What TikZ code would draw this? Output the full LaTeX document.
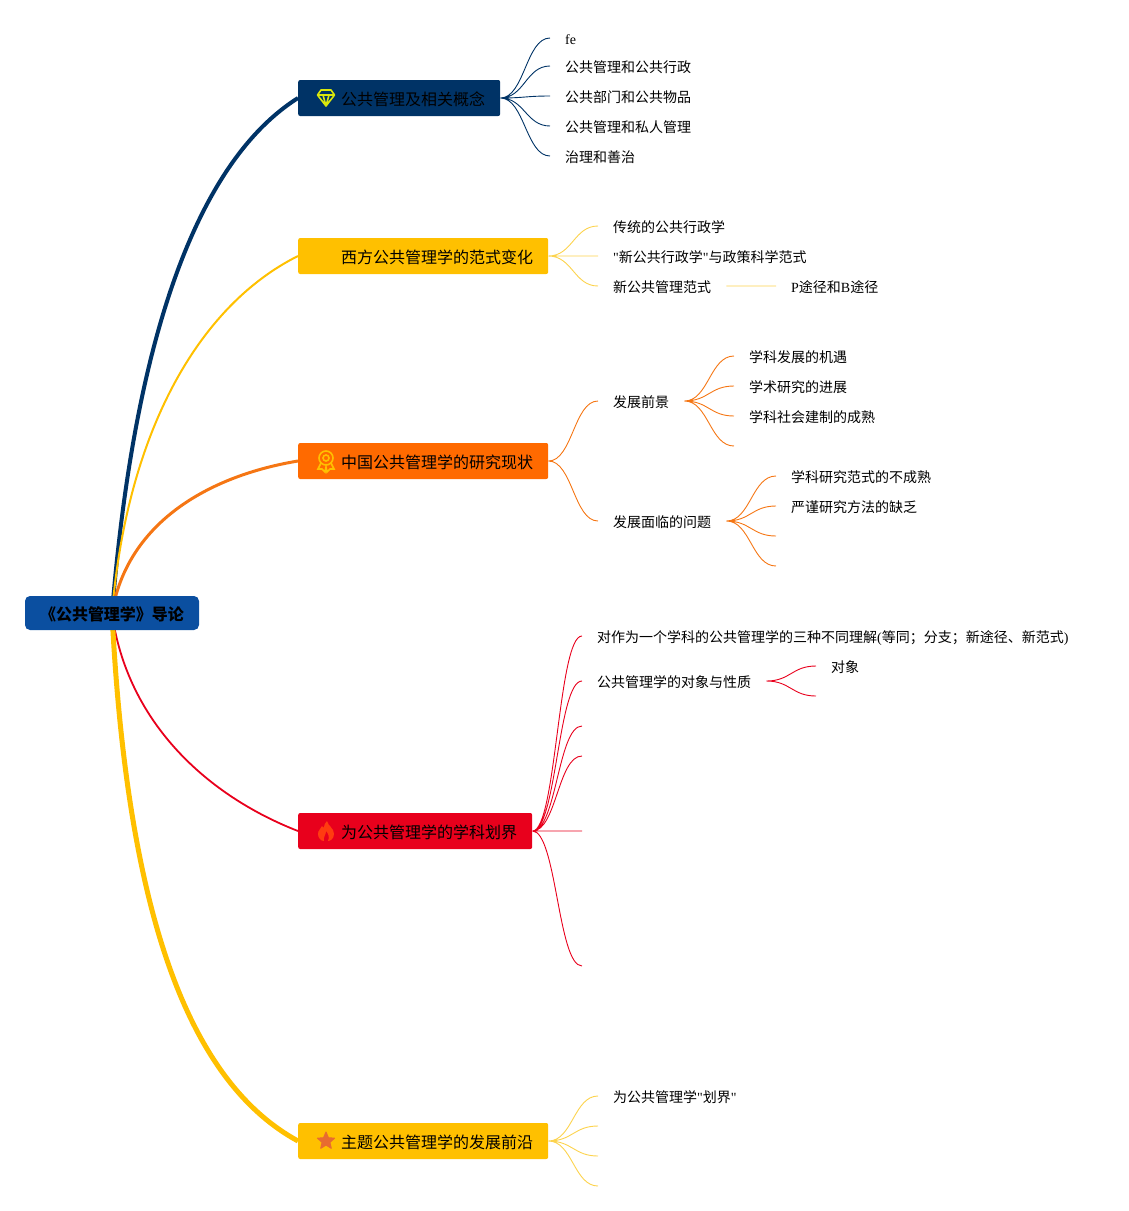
\documentclass[tikz,border=0pt]{standalone}
\usepackage{fontspec}
\setmainfont{Liberation Serif}
\newfontfamily\cjk{Noto Sans CJK SC}
\newfontfamily\latfont{Liberation Serif}
\newcommand{\lat}[1]{{\latfont #1}}
\usetikzlibrary{shapes.geometric,backgrounds,calc}
\definecolor{navy}{RGB}{0,51,102}
\definecolor{rootblue}{RGB}{11,79,160}
\definecolor{amber}{RGB}{255,192,0}
\definecolor{paleamber}{RGB}{252,211,77}
\definecolor{tangerine}{RGB}{255,106,0}
\definecolor{softorange}{RGB}{245,118,20}
\definecolor{signal}{RGB}{232,0,28}
\definecolor{flame}{RGB}{255,60,16}
\definecolor{starred}{RGB}{232,108,48}

\begin{document}
\begin{tikzpicture}[x=1pt, y=-1pt,
  every node/.style={inner sep=0pt},
  root/.style={rectangle, rounded corners=5pt, fill=rootblue, text=black,
    minimum width=174pt, minimum height=34pt, text height=16pt, text depth=2pt,
    font=\cjk\bfseries\fontsize{16}{18}\selectfont},
  topic/.style={rectangle, rounded corners=2pt, anchor=west, text=black,
    minimum height=36pt, inner xsep=15pt, text height=16pt, text depth=2pt,
    execute at begin node=\hspace*{28pt},
    font=\cjk\fontsize{16}{18}\selectfont},
  leaf/.style={anchor=west, inner xsep=15pt, text=black, text height=15pt, text depth=2pt,
    font=\cjk\fontsize{14}{16}\selectfont},
  twig/.style={line width=0.9pt, to path={
    .. controls ($(\tikztostart)+(24,0)$) and ($(\tikztotarget)+(-24,0)$) .. (\tikztotarget)}}]
\useasboundingbox (0,0) rectangle (1129,1211);

\node[root] (root) at (112,613) {《公共管理学》导论};

\node[topic, fill=navy] (concept) at (298,98) {公共管理及相关概念};
\node[topic, fill=amber] (western) at (298,256) {西方公共管理学的范式变化};
\node[topic, fill=tangerine] (china) at (298,461) {中国公共管理学的研究现状};
\node[topic, fill=signal] (border) at (298,831) {为公共管理学的学科划界};
\node[topic, fill=amber] (front) at (298,1141) {主题公共管理学的发展前沿};

% first topic
\node[leaf] (fe) at (550,38) {\lat{fe}};
\node[leaf] (conA) at (550,66) {公共管理和公共行政};
\node[leaf] (conB) at (550,96) {公共部门和公共物品};
\node[leaf] (conC) at (550,126) {公共管理和私人管理};
\node[leaf] (conD) at (550,156) {治理和善治};

% second topic
\node[leaf] (westA) at (598,226) {传统的公共行政学};
\node[leaf] (westB) at (598,256) {\lat{"}新公共行政学\lat{"}与政策科学范式};
\node[leaf] (westC) at (598,286) {新公共管理范式};
\node[leaf] (westD) at (776,286) {\lat{P}途径和\lat{B}途径};

% third topic
\node[leaf] (hope) at (598,401) {发展前景};
\node[leaf] (hopeA) at (734,356) {学科发展的机遇};
\node[leaf] (hopeB) at (734,386) {学术研究的进展};
\node[leaf] (hopeC) at (734,416) {学科社会建制的成熟};
\coordinate (hopeD) at (734,446);
\node[leaf] (issue) at (598,521) {发展面临的问题};
\node[leaf] (issueA) at (776,476) {学科研究范式的不成熟};
\node[leaf] (issueB) at (776,506) {严谨研究方法的缺乏};
\coordinate (issueC) at (776,536);
\coordinate (issueD) at (776,566);

% fourth topic
\node[leaf] (bordA) at (582,636) {对作为一个学科的公共管理学的三种不同理解\lat{(}等同\char"FF1B 分支\char"FF1B 新途径、新范式\lat{)}};
\node[leaf] (bordB) at (582,681) {公共管理学的对象与性质};
\node[leaf] (bordBa) at (816,666) {对象};
\coordinate (bordBb) at (816,696);
\coordinate (bordC) at (582,726);
\coordinate (bordD) at (582,756);
\coordinate (bordE) at (582,831);
\coordinate (bordF) at (582,966);

% fifth topic
\node[leaf] (frontA) at (598,1096) {为公共管理学\lat{"}划界\lat{"}};
\coordinate (frontB) at (598,1126);
\coordinate (frontC) at (598,1156);
\coordinate (frontD) at (598,1186);

% icons
\begin{scope}[shift={(326,98)}, line width=1.6pt, line join=round]
\draw[yellow!85!green] (-8.5,-3) -- (-5,-8) -- (5,-8) -- (8.5,-3) -- (0,8) -- cycle
  (-8.5,-3) -- (8.5,-3) (-3,-3) -- (0,8) -- (3,-3);
\end{scope}
\begin{scope}[shift={(326,461)}, line width=1.6pt, draw=amber]
\draw (0,-3) circle (7pt);
\draw (0,-3) circle (3pt);
\draw (-5,2) -- (-8,8) -- (-4,8) -- (-1,11) -- (0,6) -- (1,11) -- (4,8) -- (8,8) -- (5,2);
\end{scope}
\fill[flame, shift={(326,831)}] (1,-10) .. controls (2,-5) and (8,-3) .. (8,3)
  .. controls (8,8) and (4,10) .. (2,10) .. controls (4,6) and (2,2) .. (0,0)
  .. controls (0,4) and (-3,6) .. (-2,10) .. controls (-5,10) and (-8,7) .. (-8,3)
  .. controls (-8,-1) and (-5,-2) .. (-4,-5) .. controls (-3,-3) and (-2,-3) .. (-2,-4)
  .. controls (-2,-6) and (-1,-8) .. (1,-10) -- cycle;
\node[star, star points=5, star point ratio=2.2, fill=starred, draw=starred, line join=round,
  line width=1pt, minimum size=18pt] (prize) at (326,1141) {};

\begin{scope}[on background layer]
\draw[navy, line width=4pt] (root.center) .. controls +(23,-283) and +(-98,62) .. (concept.west);
\draw[amber, line width=2pt] (root.center) .. controls +(15,-180) and +(-100,50) .. (western.west);
\draw[softorange, line width=3pt] (root.center) .. controls +(15,-90) and +(-90,15) .. (china.west);
\draw[signal, line width=1.8pt] (root.center) .. controls +(15,110) and +(-90,-35) .. (border.west);
\draw[amber, line width=5pt] (root.center) .. controls +(15,300) and +(-110,-60) .. (front.west);
\end{scope}

\draw[twig, navy] (concept.east) to (fe.west) (concept.east) to (conA.west)
  (concept.east) to (conB.west) (concept.east) to (conC.west) (concept.east) to (conD.west);
\draw[twig, paleamber] (western.east) to (westA.west) (western.east) to (westB.west)
  (western.east) to (westC.west) (westC.east) -- (westD.west);
\draw[twig, softorange] (china.east) to (hope.west) (china.east) to (issue.west)
  (hope.east) to (hopeA.west) (hope.east) to (hopeB.west) (hope.east) to (hopeC.west) (hope.east) to (hopeD)
  (issue.east) to (issueA.west) (issue.east) to (issueB.west) (issue.east) to (issueC) (issue.east) to (issueD);
\draw[twig, signal] (border.east) to (bordA.west) (border.east) to (bordB.west)
  (border.east) to (bordC) (border.east) to (bordD) (border.east) to (bordE) (border.east) to (bordF)
  (bordB.east) to (bordBa.west) (bordB.east) to (bordBb);
\draw[twig, paleamber] (front.east) to (frontA.west) (front.east) to (frontB)
  (front.east) to (frontC) (front.east) to (frontD);
\end{tikzpicture}
\end{document}
